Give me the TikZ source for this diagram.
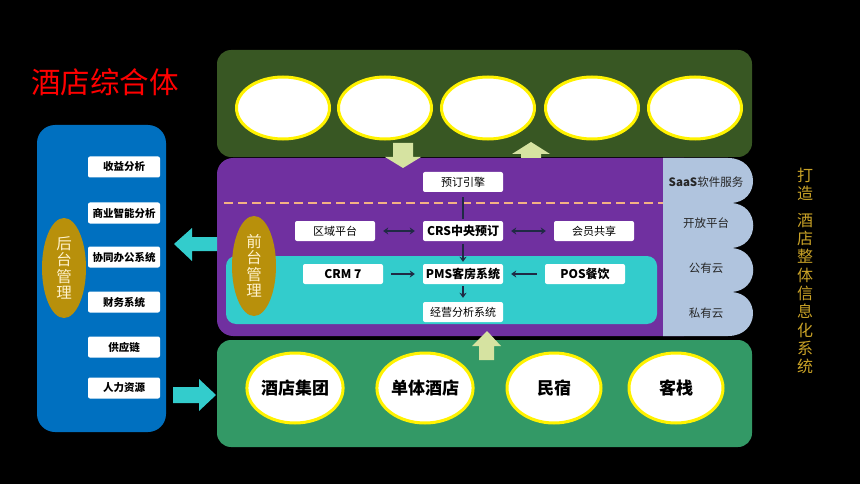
\documentclass[tikz,border=0pt]{standalone}
\usepackage{fontspec}
\setmainfont{Noto Sans CJK SC}
\usetikzlibrary{shapes.geometric,arrows.meta}

\definecolor{panelblue}{HTML}{0070C0}
\definecolor{darkgreen}{HTML}{385723}
\definecolor{seagreen}{HTML}{339966}
\definecolor{purplebg}{HTML}{7030A0}
\definecolor{tealbg}{HTML}{33CCCC}
\definecolor{cloudblue}{HTML}{B0C4DE}
\definecolor{goldfill}{HTML}{B8900B}
\definecolor{paleyellow}{HTML}{FFF2CC}
\definecolor{palegreen}{HTML}{D6E3A1}
\definecolor{navyline}{HTML}{1F2A44}
\definecolor{dashorange}{HTML}{F4B183}
\definecolor{slogan}{HTML}{C9A227}

\begin{document}
\begin{tikzpicture}[x=1pt, y=-1pt,
    box/.style={fill=white, rounded corners=2pt, inner sep=0pt,
      minimum width=80pt, minimum height=20pt, text=black,
      font=\fontsize{11}{12}\selectfont},
    sidebox/.style={box, minimum width=72pt, minimum height=21pt,
      font=\fontsize{10.5}{12}\selectfont\bfseries},
    manage/.style={ellipse, fill=goldfill, inner sep=0pt, minimum
      width=44pt, minimum height=100pt, align=center, text=paleyellow,
      font=\fontsize{15.5}{16.5}\selectfont},
    bubble/.style={ellipse, fill=white, draw=yellow, line width=3pt,
      inner sep=0pt, minimum width=93pt, minimum height=62pt},
    client/.style={bubble, minimum width=94pt, minimum height=70pt,
      font=\fontsize{17}{18}\selectfont\bfseries},
    cloudtext/.style={text=black!85, font=\fontsize{11.5}{12}\selectfont},
    link/.style={draw=navyline, line width=2.3pt,
      shorten >=8pt, shorten <=8pt},
    blockup/.style={fill=palegreen},
    blockside/.style={fill=tealbg}]

  \fill[black] (0,0) rectangle (860,484);
  \useasboundingbox (0,0) rectangle (860,484);

  \node[text=red, font=\fontsize{29.5}{31}\selectfont] (title) at (105,82)
  {酒店综合体};

  % back office
  \fill[panelblue, rounded corners=18pt] (37,125) rectangle (166,432);
  \node[manage] (back) at (64,268) {后\\台\\管\\理};
  \begin{scope}[every node/.style={sidebox}]
    \node (b1) at (124,167) {收益分析}; \node (b2) at (124,213)
    {商业智能分析}; \node (b3) at (124,257) {协同办公系统};
    \node (b4) at (124,302) {财务系统}; \node (b5) at (124,347)
    {供应链}; \node (b6) at (124,388) {人力资源};
  \end{scope}

  % channels
  \fill[darkgreen, rounded corners=14pt] (217,50) rectangle (752,157);
  \begin{scope}[every node/.style={bubble}]
    \node (c1) at (283,108) {}; \node (c2) at (385,108) {}; \node (c3)
    at (488,108) {}; \node (c4) at (592,108) {}; \node (c5) at
    (695,108) {};
  \end{scope}

  % front office
  \fill[purplebg, rounded corners=16pt] (217,158) rectangle (700,336);
  \fill[cloudblue] (663,158) -- (728,158) .. controls (761,158) and
  (761,203) .. (730,203) .. controls (761,203) and (761,248) ..
  (730,248) .. controls (761,248) and (761,292) .. (730,292)
  .. controls (761,292) and (761,336) .. (728,336) -- (663,336) --
  cycle;
  \begin{scope}[every node/.style={cloudtext}]
    \node (saas) at (706,182) {\textbf{SaaS}软件服务}; \node (open) at
    (706,223) {开放平台}; \node (public) at (706,268) {公有云};
    \node (private) at (706,313) {私有云};
  \end{scope}
  \coordinate (dashL) at (224,203); \coordinate (dashR) at (663,203);
  \draw[dashorange, line width=1.5pt, dash pattern=on 9pt off 5pt]
  (dashL) -- (dashR);
  \fill[tealbg, rounded corners=10pt] (226,256) rectangle (657,324);
  \node[manage] (front) at (254,266) {前\\台\\管\\理};

  \begin{scope}[every node/.style={box}]
    \node (engine) at (463,182) {预订引擎}; \node (region) at (335,231)
    {区域平台}; \node [font=\fontsize{12}{12}\selectfont\bfseries]
    (crs) at (463,231) {CRS中央预订}; \node (member) at (594,231)
    {会员共享}; \node [font=\fontsize{12}{12}\selectfont\bfseries]
    (crm) at (343,274) {CRM 7}; \node
    [font=\fontsize{12}{12}\selectfont\bfseries] (pms) at (463,274)
    {PMS客房系统}; \node [font=\fontsize{12}{12}\selectfont\bfseries]
    (pos) at (585,274) {POS餐饮}; \node (report) at (463,312)
    {经营分析系统};
  \end{scope}

  \begin{scope}[link, >={Stealth[length=5pt, width=7pt]}]
    \draw [shorten <=5pt, shorten >=2pt] (engine) to (crs); \draw [<->]
    (region) to (crs); \draw [<->] (member) to (crs); \draw [->,
    shorten <=3pt, shorten >=2pt] (crs) to (pms); \draw [->] (crm) to
    (pms); \draw [->] (pos) to (pms); \draw [->, shorten <=2pt,
    shorten >=4pt] (pms) to (report);
  \end{scope}

  % customers
  \fill[seagreen, rounded corners=14pt] (217,340) rectangle (752,447);
  \begin{scope}[every node/.style={client}]
    \node (h1) at (295,388) {酒店集团}; \node (h2) at (425,388)
    {单体酒店}; \node (h3) at (554,388) {民宿}; \node (h4) at
    (676,388) {客栈};
  \end{scope}

  % block arrows
  \fill[blockup] (393,143) -- (413,143) -- (413,157) -- (421,157) --
  (403,168) -- (385,157) -- (393,157) -- cycle;
  \fill[blockup] (521,158) -- (541,158) -- (541,154) -- (550,154) --
  (531,142) -- (512,154) -- (521,154) -- cycle;
  \fill[blockup] (479,360) -- (494,360) -- (494,346) -- (501,346) --
  (487,331) -- (472,346) -- (479,346) -- cycle;
  \fill[blockside] (217,237) -- (192,237) -- (192,228) -- (174,244) --
  (192,261) -- (192,251) -- (217,251) -- cycle;
  \fill[blockside] (173,387) -- (199,387) -- (199,379) -- (216,395) --
  (199,411) -- (199,403) -- (173,403) -- cycle;

  \node[text=slogan, align=center, font=\fontsize{16}{18.3}\selectfont]
  (motto) at (805,271) {打\\造\\[8pt]酒\\店\\整\\体\\信\\息\\化\\系\\统};
\end{tikzpicture}
\end{document}
